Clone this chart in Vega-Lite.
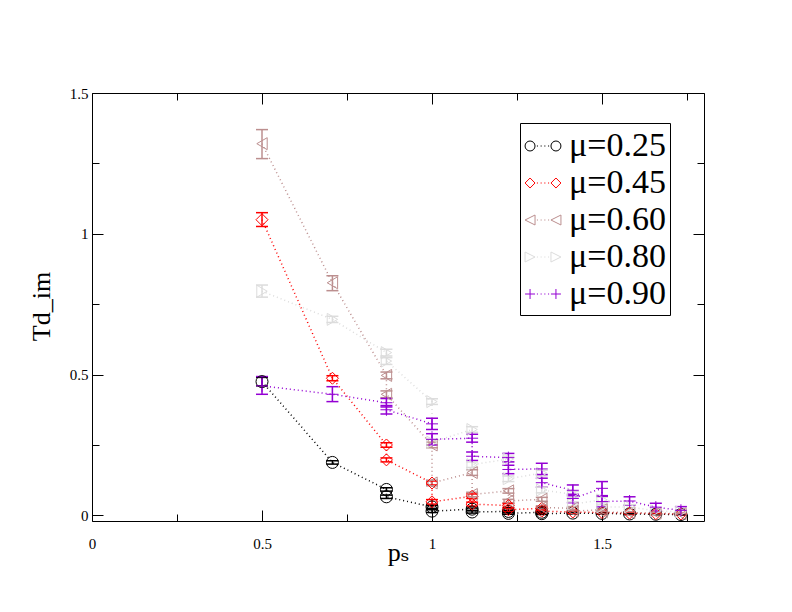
{
  "$schema": "https://vega.github.io/schema/vega-lite/v6.json",
  "width": 612,
  "height": 428,
  "autosize": {"type": "none"},
  "padding": {"left": 92, "top": 93, "right": 88, "bottom": 91},
  "background": "white",
  "config": {
    "font": "Liberation Serif",
    "view": {"stroke": "black", "strokeWidth": 1},
    "axis": {
      "domain": false, "grid": false,
      "labelFont": "Liberation Serif", "labelFontSize": 15, "labelColor": "black",
      "tickColor": "black", "tickWidth": 1,
      "titleFont": "Liberation Serif, DejaVu Serif", "titleFontWeight": "normal", "titleFontSize": 26, "titleColor": "black",
      "labelFlush": false, "labelOverlap": false
    },
    "legend": {
      "labelFont": "Liberation Serif", "labelFontSize": 34, "labelColor": "black", "labelLimit": 300
    }
  },
  "data": {"values": [
    {"s":"μ=0.25","o":1,"x":0.5,"y":0.475,"lo":0.46,"hi":0.49},
    {"s":"μ=0.25","o":2,"x":0.7071,"y":0.188,"lo":0.182,"hi":0.194},
    {"s":"μ=0.25","o":3,"x":0.866,"y":0.092,"lo":0.086,"hi":0.098},
    {"s":"μ=0.25","o":4,"x":0.866,"y":0.066,"lo":0.06,"hi":0.072},
    {"s":"μ=0.25","o":5,"x":1.0,"y":0.03,"lo":0.025,"hi":0.035},
    {"s":"μ=0.25","o":6,"x":1.0,"y":0.015,"lo":0.01,"hi":0.02},
    {"s":"μ=0.25","o":7,"x":1.118,"y":0.022,"lo":0.018,"hi":0.026},
    {"s":"μ=0.25","o":8,"x":1.118,"y":0.012,"lo":0.008,"hi":0.016},
    {"s":"μ=0.25","o":9,"x":1.2247,"y":0.014,"lo":0.01,"hi":0.018},
    {"s":"μ=0.25","o":10,"x":1.2247,"y":0.007,"lo":0.004,"hi":0.01},
    {"s":"μ=0.25","o":11,"x":1.3229,"y":0.011,"lo":0.007,"hi":0.015},
    {"s":"μ=0.25","o":12,"x":1.3229,"y":0.006,"lo":0.003,"hi":0.009},
    {"s":"μ=0.25","o":13,"x":1.4142,"y":0.008,"lo":0.005,"hi":0.011},
    {"s":"μ=0.25","o":14,"x":1.5,"y":0.007,"lo":0.004,"hi":0.01},
    {"s":"μ=0.25","o":15,"x":1.5811,"y":0.005,"lo":0.003,"hi":0.007},
    {"s":"μ=0.25","o":16,"x":1.6583,"y":0.004,"lo":0.002,"hi":0.006},
    {"s":"μ=0.25","o":17,"x":1.7321,"y":0.003,"lo":0.001,"hi":0.005},

    {"s":"μ=0.45","o":1,"x":0.5,"y":1.05,"lo":1.026,"hi":1.075},
    {"s":"μ=0.45","o":2,"x":0.7071,"y":0.487,"lo":0.478,"hi":0.496},
    {"s":"μ=0.45","o":3,"x":0.866,"y":0.25,"lo":0.242,"hi":0.258},
    {"s":"μ=0.45","o":4,"x":0.866,"y":0.197,"lo":0.19,"hi":0.204},
    {"s":"μ=0.45","o":5,"x":1.0,"y":0.115,"lo":0.108,"hi":0.122},
    {"s":"μ=0.45","o":6,"x":1.0,"y":0.048,"lo":0.04,"hi":0.056},
    {"s":"μ=0.45","o":7,"x":1.118,"y":0.068,"lo":0.06,"hi":0.076},
    {"s":"μ=0.45","o":8,"x":1.118,"y":0.04,"lo":0.033,"hi":0.047},
    {"s":"μ=0.45","o":9,"x":1.2247,"y":0.035,"lo":0.028,"hi":0.042},
    {"s":"μ=0.45","o":10,"x":1.2247,"y":0.02,"lo":0.014,"hi":0.026},
    {"s":"μ=0.45","o":11,"x":1.3229,"y":0.025,"lo":0.02,"hi":0.03},
    {"s":"μ=0.45","o":12,"x":1.3229,"y":0.015,"lo":0.011,"hi":0.019},
    {"s":"μ=0.45","o":13,"x":1.4142,"y":0.012,"lo":0.008,"hi":0.016},
    {"s":"μ=0.45","o":14,"x":1.5,"y":0.01,"lo":0.007,"hi":0.013},
    {"s":"μ=0.45","o":15,"x":1.5811,"y":0.008,"lo":0.005,"hi":0.011},
    {"s":"μ=0.45","o":16,"x":1.6583,"y":0.006,"lo":0.004,"hi":0.008},
    {"s":"μ=0.45","o":17,"x":1.7321,"y":0.005,"lo":0.003,"hi":0.007},

    {"s":"μ=0.60","o":1,"x":0.5,"y":1.32,"lo":1.267,"hi":1.37},
    {"s":"μ=0.60","o":2,"x":0.7071,"y":0.826,"lo":0.798,"hi":0.851},
    {"s":"μ=0.60","o":3,"x":0.866,"y":0.497,"lo":0.485,"hi":0.509},
    {"s":"μ=0.60","o":4,"x":0.866,"y":0.43,"lo":0.418,"hi":0.442},
    {"s":"μ=0.60","o":5,"x":1.0,"y":0.25,"lo":0.24,"hi":0.26},
    {"s":"μ=0.60","o":6,"x":1.0,"y":0.115,"lo":0.105,"hi":0.125},
    {"s":"μ=0.60","o":7,"x":1.118,"y":0.152,"lo":0.142,"hi":0.162},
    {"s":"μ=0.60","o":8,"x":1.118,"y":0.074,"lo":0.066,"hi":0.082},
    {"s":"μ=0.60","o":9,"x":1.2247,"y":0.087,"lo":0.079,"hi":0.095},
    {"s":"μ=0.60","o":10,"x":1.2247,"y":0.051,"lo":0.045,"hi":0.057},
    {"s":"μ=0.60","o":11,"x":1.3229,"y":0.057,"lo":0.05,"hi":0.064},
    {"s":"μ=0.60","o":12,"x":1.3229,"y":0.028,"lo":0.022,"hi":0.034},
    {"s":"μ=0.60","o":13,"x":1.4142,"y":0.025,"lo":0.02,"hi":0.03},
    {"s":"μ=0.60","o":14,"x":1.4142,"y":0.015,"lo":0.011,"hi":0.019},
    {"s":"μ=0.60","o":15,"x":1.5,"y":0.02,"lo":0.016,"hi":0.024},
    {"s":"μ=0.60","o":16,"x":1.5,"y":0.012,"lo":0.009,"hi":0.015},
    {"s":"μ=0.60","o":17,"x":1.5811,"y":0.01,"lo":0.007,"hi":0.013},
    {"s":"μ=0.60","o":18,"x":1.6583,"y":0.008,"lo":0.005,"hi":0.011},
    {"s":"μ=0.60","o":19,"x":1.7321,"y":0.006,"lo":0.004,"hi":0.008},

    {"s":"μ=0.80","o":1,"x":0.5,"y":0.796,"lo":0.775,"hi":0.818},
    {"s":"μ=0.80","o":2,"x":0.7071,"y":0.696,"lo":0.685,"hi":0.707},
    {"s":"μ=0.80","o":3,"x":0.866,"y":0.578,"lo":0.566,"hi":0.59},
    {"s":"μ=0.80","o":4,"x":0.866,"y":0.548,"lo":0.536,"hi":0.56},
    {"s":"μ=0.80","o":5,"x":1.0,"y":0.404,"lo":0.394,"hi":0.414},
    {"s":"μ=0.80","o":6,"x":1.0,"y":0.26,"lo":0.25,"hi":0.27},
    {"s":"μ=0.80","o":7,"x":1.118,"y":0.305,"lo":0.295,"hi":0.315},
    {"s":"μ=0.80","o":8,"x":1.118,"y":0.18,"lo":0.17,"hi":0.19},
    {"s":"μ=0.80","o":9,"x":1.2247,"y":0.2,"lo":0.19,"hi":0.21},
    {"s":"μ=0.80","o":10,"x":1.2247,"y":0.13,"lo":0.12,"hi":0.14},
    {"s":"μ=0.80","o":11,"x":1.3229,"y":0.15,"lo":0.14,"hi":0.16},
    {"s":"μ=0.80","o":12,"x":1.3229,"y":0.09,"lo":0.08,"hi":0.1},
    {"s":"μ=0.80","o":13,"x":1.4142,"y":0.075,"lo":0.065,"hi":0.085},
    {"s":"μ=0.80","o":14,"x":1.4142,"y":0.04,"lo":0.032,"hi":0.048},
    {"s":"μ=0.80","o":15,"x":1.5,"y":0.055,"lo":0.045,"hi":0.065},
    {"s":"μ=0.80","o":16,"x":1.5,"y":0.03,"lo":0.022,"hi":0.038},
    {"s":"μ=0.80","o":17,"x":1.5811,"y":0.03,"lo":0.022,"hi":0.038},
    {"s":"μ=0.80","o":18,"x":1.6583,"y":0.016,"lo":0.01,"hi":0.022},
    {"s":"μ=0.80","o":19,"x":1.7321,"y":0.012,"lo":0.007,"hi":0.017},

    {"s":"μ=0.90","o":1,"x":0.5,"y":0.46,"lo":0.43,"hi":0.493},
    {"s":"μ=0.90","o":2,"x":0.7071,"y":0.43,"lo":0.404,"hi":0.457},
    {"s":"μ=0.90","o":3,"x":0.866,"y":0.4,"lo":0.385,"hi":0.415},
    {"s":"μ=0.90","o":4,"x":0.866,"y":0.375,"lo":0.36,"hi":0.39},
    {"s":"μ=0.90","o":5,"x":1.0,"y":0.325,"lo":0.305,"hi":0.345},
    {"s":"μ=0.90","o":6,"x":1.0,"y":0.27,"lo":0.25,"hi":0.29},
    {"s":"μ=0.90","o":7,"x":1.118,"y":0.274,"lo":0.26,"hi":0.288},
    {"s":"μ=0.90","o":8,"x":1.118,"y":0.21,"lo":0.195,"hi":0.225},
    {"s":"μ=0.90","o":9,"x":1.2247,"y":0.205,"lo":0.19,"hi":0.22},
    {"s":"μ=0.90","o":10,"x":1.2247,"y":0.163,"lo":0.148,"hi":0.178},
    {"s":"μ=0.90","o":11,"x":1.3229,"y":0.165,"lo":0.145,"hi":0.185},
    {"s":"μ=0.90","o":12,"x":1.3229,"y":0.116,"lo":0.1,"hi":0.132},
    {"s":"μ=0.90","o":13,"x":1.4142,"y":0.089,"lo":0.07,"hi":0.108},
    {"s":"μ=0.90","o":14,"x":1.4142,"y":0.06,"lo":0.045,"hi":0.075},
    {"s":"μ=0.90","o":15,"x":1.5,"y":0.096,"lo":0.07,"hi":0.12},
    {"s":"μ=0.90","o":16,"x":1.5,"y":0.049,"lo":0.03,"hi":0.068},
    {"s":"μ=0.90","o":17,"x":1.5811,"y":0.051,"lo":0.036,"hi":0.066},
    {"s":"μ=0.90","o":18,"x":1.6583,"y":0.029,"lo":0.015,"hi":0.043},
    {"s":"μ=0.90","o":19,"x":1.7321,"y":0.018,"lo":0.005,"hi":0.031}
  ]},
  "layer": [
    {
      "mark": {"type": "line", "strokeDash": [1, 3], "strokeWidth": 1.5},
      "encoding": {
        "x": {"field": "x", "type": "quantitative",
          "scale": {"domain": [0, 1.8], "nice": false, "zero": false},
          "axis": {"orient": "bottom", "values": [0, 0.5, 1, 1.5], "format": "~g", "tickSize": -11,
            "labelPadding": 26, "title": "pₛ", "titleY": 39, "titleBaseline": "alphabetic"}},
        "y": {"field": "y", "type": "quantitative",
          "scale": {"domain": [-0.02, 1.5], "nice": false, "zero": false},
          "axis": {"orient": "left", "values": [0, 0.5, 1, 1.5], "format": "~g", "tickSize": -11,
            "labelPadding": 15, "title": "Td_im", "titleX": -43, "titleY": 213, "titleBaseline": "alphabetic"}},
        "color": {"field": "s", "type": "nominal",
          "scale": {"domain": ["μ=0.25","μ=0.45","μ=0.60","μ=0.80","μ=0.90"], "range": ["#000000","#ff0000","#bc8f8f","#dcdcdc","#9400d3"]},
          "legend": null},
        "order": {"field": "o", "type": "quantitative"}
      }
    },
    {
      "mark": {"type": "rule", "strokeWidth": 1.5},
      "encoding": {
        "x": {"field": "x", "type": "quantitative", "scale": {"domain": [0, 1.8], "nice": false, "zero": false},
          "axis": {"orient": "bottom", "values": [0.25, 0.75, 1.25, 1.75], "labels": false, "title": null, "tickSize": -7}},
        "y": {"field": "lo", "type": "quantitative", "scale": {"domain": [-0.02, 1.5], "nice": false, "zero": false},
          "axis": {"orient": "left", "values": [0.25, 0.75, 1.25], "labels": false, "title": null, "tickSize": -7}},
        "y2": {"field": "hi"},
        "color": {"field": "s", "type": "nominal",
          "scale": {"domain": ["μ=0.25","μ=0.45","μ=0.60","μ=0.80","μ=0.90"], "range": ["#000000","#ff0000","#bc8f8f","#dcdcdc","#9400d3"]},
          "legend": null}
      }
    },
    {
      "mark": {"type": "tick", "size": 12, "thickness": 1.5, "orient": "horizontal", "opacity": 1},
      "encoding": {
        "x": {"field": "x", "type": "quantitative", "scale": {"domain": [0, 1.8], "nice": false, "zero": false}, "axis": null},
        "y": {"field": "lo", "type": "quantitative", "scale": {"domain": [-0.02, 1.5], "nice": false, "zero": false}, "axis": null},
        "color": {"field": "s", "type": "nominal",
          "scale": {"domain": ["μ=0.25","μ=0.45","μ=0.60","μ=0.80","μ=0.90"], "range": ["#000000","#ff0000","#bc8f8f","#dcdcdc","#9400d3"]},
          "legend": null}
      }
    },
    {
      "mark": {"type": "tick", "size": 12, "thickness": 1.5, "orient": "horizontal", "opacity": 1},
      "encoding": {
        "x": {"field": "x", "type": "quantitative", "scale": {"domain": [0, 1.8], "nice": false, "zero": false}, "axis": null},
        "y": {"field": "hi", "type": "quantitative", "scale": {"domain": [-0.02, 1.5], "nice": false, "zero": false}, "axis": null},
        "color": {"field": "s", "type": "nominal",
          "scale": {"domain": ["μ=0.25","μ=0.45","μ=0.60","μ=0.80","μ=0.90"], "range": ["#000000","#ff0000","#bc8f8f","#dcdcdc","#9400d3"]},
          "legend": null}
      }
    },
    {
      "mark": {"type": "point", "filled": false, "size": 144, "strokeWidth": 1, "opacity": 1},
      "encoding": {
        "x": {"field": "x", "type": "quantitative", "scale": {"domain": [0, 1.8], "nice": false, "zero": false},
          "axis": {"orient": "top", "values": [0, 0.5, 1, 1.5], "labels": false, "title": null, "tickSize": -11}},
        "y": {"field": "y", "type": "quantitative", "scale": {"domain": [-0.02, 1.5], "nice": false, "zero": false},
          "axis": {"orient": "right", "values": [0, 0.5, 1, 1.5], "labels": false, "title": null, "tickSize": -11}},
        "color": {"field": "s", "type": "nominal",
          "scale": {"domain": ["μ=0.25","μ=0.45","μ=0.60","μ=0.80","μ=0.90"], "range": ["#000000","#ff0000","#bc8f8f","#dcdcdc","#9400d3"]},
          "legend": null},
        "shape": {"field": "s", "type": "nominal",
          "scale": {"domain": ["μ=0.25","μ=0.45","μ=0.60","μ=0.80","μ=0.90"], "range": ["circle","diamond","triangle-left","triangle-right","M-1,0H1M0,-1V1"]},
          "legend": null}
      }
    },
    {
      "transform": [{"filter": "datum.x > 100"}],
      "mark": {"type": "point", "filled": false, "opacity": 1},
      "encoding": {
        "x": {"field": "x", "type": "quantitative", "scale": {"domain": [0, 1.8], "nice": false, "zero": false},
          "axis": {"orient": "top", "values": [0.25, 0.75, 1.25, 1.75], "labels": false, "title": null, "tickSize": -7}},
        "y": {"field": "y", "type": "quantitative", "scale": {"domain": [-0.02, 1.5], "nice": false, "zero": false},
          "axis": {"orient": "right", "values": [0.25, 0.75, 1.25], "labels": false, "title": null, "tickSize": -7}},
        "shape": {"field": "s", "type": "nominal",
          "scale": {"domain": ["μ=0.25","μ=0.45","μ=0.60","μ=0.80","μ=0.90"], "range": [
            "M-0.43,0A0.27,0.27,0,1,1,-0.97,0A0.27,0.27,0,1,1,-0.43,0ZM0.97,0A0.27,0.27,0,1,1,0.43,0A0.27,0.27,0,1,1,0.97,0ZM-0.33,0h0.06M-0.13,0h0.06M0.07,0h0.06M0.27,0h0.06",
            "M-0.7,-0.27L-0.43,0L-0.7,0.27L-0.97,0ZM0.7,-0.27L0.97,0L0.7,0.27L0.43,0ZM-0.33,0h0.06M-0.13,0h0.06M0.07,0h0.06M0.27,0h0.06",
            "M-0.97,0L-0.43,-0.27L-0.43,0.27ZM0.43,0L0.97,-0.27L0.97,0.27ZM-0.33,0h0.06M-0.13,0h0.06M0.07,0h0.06M0.27,0h0.06",
            "M-0.43,0L-0.97,-0.27L-0.97,0.27ZM0.97,0L0.43,-0.27L0.43,0.27ZM-0.33,0h0.06M-0.13,0h0.06M0.07,0h0.06M0.27,0h0.06",
            "M-0.97,0H-0.43M-0.7,-0.27V0.27M0.43,0H0.97M0.7,-0.27V0.27M-0.33,0h0.06M-0.13,0h0.06M0.07,0h0.06M0.27,0h0.06"
          ]},
          "legend": {"title": null, "orient": "none", "legendX": 428, "legendY": 30, "strokeColor": "black", "fillColor": "white", "padding": 4,
            "labelFont": "Liberation Serif", "labelFontSize": 34, "labelColor": "black", "labelLimit": 300, "labelOffset": 7,
            "symbolSize": 1369, "symbolStrokeWidth": 1, "rowPadding": 1}},
        "stroke": {"field": "s", "type": "nominal",
          "scale": {"domain": ["μ=0.25","μ=0.45","μ=0.60","μ=0.80","μ=0.90"], "range": ["#000000","#ff0000","#bc8f8f","#dcdcdc","#9400d3"]},
          "legend": {"title": null, "orient": "none", "legendX": 428, "legendY": 30, "strokeColor": "black", "fillColor": "white", "padding": 4,
            "labelFont": "Liberation Serif", "labelFontSize": 34, "labelColor": "black", "labelLimit": 300, "labelOffset": 7,
            "symbolSize": 1369, "symbolStrokeWidth": 1, "rowPadding": 1}}
      }
    }
  ],
  "resolve": {
    "scale": {"shape": "independent", "stroke": "independent"},
    "legend": {"shape": "independent", "stroke": "independent"},
    "axis": {"x": "independent", "y": "independent"}
  }
}
